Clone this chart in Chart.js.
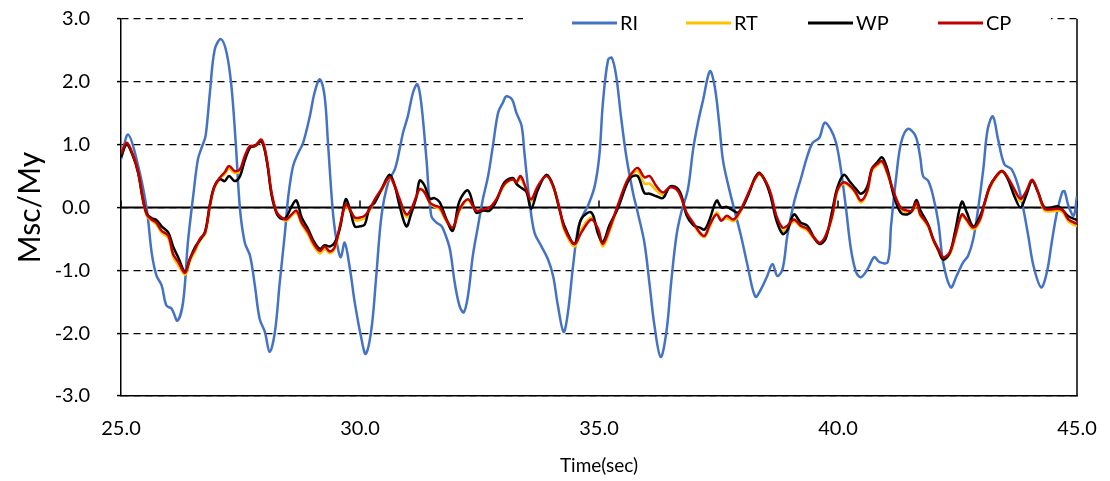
<!DOCTYPE html>
<html>
<head>
<meta charset="utf-8">
<script src="https://cdn.jsdelivr.net/npm/chart.js@4.4.1/dist/chart.umd.min.js"></script>
<style>
  html, body { margin: 0; padding: 0; background: #fff; }
  #wrap { width: 1110px; height: 481px; }
</style>
</head>
<body>
<div id="wrap"><canvas id="moment" width="1110" height="481"></canvas></div>
<script>
// series labels
const seriesNames = ["RI", "RT", "WP", "CP"];

// RI (blue) - time stamps and values
const tRI = [25.00, 25.15, 25.36, 25.54, 25.64, 25.74, 25.85, 25.95, 26.06, 26.18, 26.30, 26.40, 26.51, 26.61, 26.70, 26.77, 26.86, 26.96, 27.09, 27.21,
  27.31, 27.40, 27.49, 27.59, 27.70, 27.80, 27.90, 28.01, 28.11, 28.22, 28.32, 28.43, 28.50, 28.60, 28.71, 28.81, 28.95, 29.05, 29.16, 29.26,
  29.33, 29.44, 29.54, 29.60, 29.68, 29.79, 29.89, 30.03, 30.12, 30.24, 30.34, 30.45, 30.59, 30.73, 30.83, 30.90, 31.00, 31.11, 31.20, 31.28,
  31.39, 31.49, 31.60, 31.70, 31.77, 31.88, 31.98, 32.08, 32.17, 32.26, 32.36, 32.47, 32.57, 32.68, 32.78, 32.89, 32.99, 33.06, 33.18, 33.27,
  33.38, 33.44, 33.55, 33.65, 33.79, 33.93, 34.04, 34.14, 34.26, 34.35, 34.45, 34.56, 34.66, 34.77, 34.91, 35.01, 35.08, 35.19, 35.27, 35.36,
  35.46, 35.57, 35.71, 35.81, 35.95, 36.06, 36.16, 36.29, 36.41, 36.51, 36.62, 36.72, 36.86, 36.97, 37.07, 37.18, 37.32, 37.42, 37.52, 37.59,
  37.69, 37.83, 37.97, 38.11, 38.27, 38.39, 38.52, 38.63, 38.73, 38.84, 38.94, 39.08, 39.22, 39.36, 39.47, 39.61, 39.72, 39.85, 39.96, 40.06,
  40.17, 40.27, 40.38, 40.48, 40.62, 40.76, 40.87, 41.04, 41.11, 41.22, 41.32, 41.46, 41.62, 41.72, 41.78, 41.89, 41.99, 42.10, 42.20, 42.36,
  42.48, 42.62, 42.72, 42.83, 42.93, 43.04, 43.13, 43.24, 43.35, 43.48, 43.63, 43.77, 43.88, 43.98, 44.09, 44.25, 44.37, 44.47, 44.58, 44.69,
  44.74, 44.82, 44.93, 45.00];
const ri = [0.77, 1.16, 0.66, -0.03, -0.71, -1.08, -1.24, -1.56, -1.61, -1.80, -1.50, -0.55, 0.18, 0.77, 0.98, 1.14, 1.83, 2.51, 2.68, 2.46,
  1.93, 1.03, -0.03, -0.56, -0.77, -1.24, -1.77, -1.98, -2.30, -1.98, -1.20, -0.40, 0.18, 0.66, 0.87, 1.03, 1.45, 1.83, 2.04, 1.77,
  1.03, -0.13, -0.66, -0.79, -0.56, -0.98, -1.51, -2.09, -2.33, -1.93, -1.09, -0.13, 0.40, 0.61, 0.93, 1.19, 1.45, 1.83, 1.96, 1.67,
  0.77, -0.13, -0.24, -0.29, -0.40, -0.66, -1.19, -1.56, -1.67, -1.40, -0.77, -0.29, 0.13, 0.50, 0.98, 1.51, 1.67, 1.77, 1.72, 1.51,
  1.30, 0.87, 0.08, -0.40, -0.61, -0.82, -1.09, -1.56, -1.98, -1.67, -0.98, -0.34, -0.13, 0.03, 0.34, 0.85, 1.65, 2.35, 2.38, 2.09,
  1.45, 0.82, 0.24, -0.08, -0.56, -1.24, -1.88, -2.38, -1.98, -1.19, -0.45, -0.08, 0.29, 0.93, 1.35, 1.72, 2.17, 1.93, 1.30, 0.77,
  0.40, -0.03, -0.45, -0.93, -1.42, -1.30, -1.09, -0.90, -1.09, -0.98, -0.45, 0.08, 0.45, 0.82, 1.03, 1.11, 1.35, 1.24, 1.03, 0.61,
  -0.03, -0.66, -1.03, -1.11, -0.98, -0.79, -0.87, -0.87, -0.29, 0.50, 1.03, 1.25, 1.14, 0.80, 0.50, 0.42, 0.18, -0.24, -0.87, -1.27,
  -1.09, -0.87, -0.77, -0.50, -0.03, 0.61, 1.24, 1.45, 1.08, 0.69, 0.61, 0.34, -0.03, -0.45, -0.93, -1.27, -1.03, -0.56, -0.08, 0.24,
  0.26, 0.03, -0.13, 0.18];

// RT, WP, CP share one set of time stamps
const tMix = [25.00, 25.12, 25.26, 25.36, 25.46, 25.54, 25.64, 25.74, 25.85, 25.99, 26.09, 26.20, 26.34, 26.44, 26.55, 26.65, 26.76, 26.86, 26.95, 27.07,
  27.17, 27.26, 27.38, 27.49, 27.59, 27.70, 27.80, 27.94, 28.05, 28.15, 28.26, 28.36, 28.46, 28.57, 28.67, 28.78, 28.92, 29.02, 29.16, 29.26,
  29.37, 29.47, 29.58, 29.70, 29.79, 29.89, 30.00, 30.10, 30.20, 30.31, 30.45, 30.62, 30.73, 30.83, 30.97, 31.07, 31.18, 31.25, 31.35, 31.46,
  31.56, 31.67, 31.80, 31.94, 32.08, 32.26, 32.43, 32.57, 32.71, 32.85, 33.02, 33.20, 33.27, 33.36, 33.48, 33.58, 33.72, 33.90, 34.04, 34.18,
  34.28, 34.49, 34.63, 34.84, 34.98, 35.08, 35.22, 35.39, 35.57, 35.67, 35.81, 35.95, 36.06, 36.20, 36.34, 36.48, 36.62, 36.72, 36.83, 36.97,
  37.11, 37.21, 37.32, 37.46, 37.56, 37.67, 37.81, 37.91, 38.02, 38.16, 38.26, 38.36, 38.50, 38.60, 38.71, 38.84, 38.94, 39.08, 39.22, 39.36,
  39.50, 39.62, 39.74, 39.88, 39.98, 40.12, 40.26, 40.37, 40.48, 40.61, 40.71, 40.82, 40.92, 41.03, 41.17, 41.31, 41.45, 41.55, 41.64, 41.72,
  41.80, 41.89, 41.99, 42.10, 42.20, 42.34, 42.45, 42.59, 42.69, 42.83, 42.97, 43.07, 43.17, 43.31, 43.43, 43.55, 43.69, 43.82, 43.94, 44.06,
  44.18, 44.32, 44.47, 44.60, 44.71, 44.82, 45.00];
const rt = [0.83, 1.02, 0.80, 0.54, 0.11, -0.13, -0.21, -0.27, -0.40, -0.49, -0.78, -0.92, -1.07, -0.86, -0.69, -0.53, -0.42, 0.01, 0.30, 0.46,
  0.53, 0.62, 0.55, 0.58, 0.80, 0.97, 0.97, 1.06, 0.75, 0.22, -0.10, -0.18, -0.21, -0.13, -0.08, -0.27, -0.44, -0.60, -0.73, -0.66,
  -0.73, -0.66, -0.32, 0.03, -0.06, -0.20, -0.20, -0.17, -0.05, 0.11, 0.27, 0.47, 0.32, 0.10, -0.15, -0.06, 0.16, 0.30, 0.25, 0.07,
  0.01, -0.03, -0.21, -0.35, -0.05, 0.12, -0.06, -0.04, -0.02, 0.11, 0.36, 0.45, 0.39, 0.46, 0.28, 0.10, 0.32, 0.51, 0.33, -0.06,
  -0.37, -0.62, -0.35, -0.16, -0.38, -0.62, -0.38, 0.00, 0.38, 0.50, 0.58, 0.38, 0.38, 0.27, 0.20, 0.32, 0.30, 0.16, -0.10, -0.26,
  -0.42, -0.47, -0.30, -0.08, -0.20, -0.17, -0.22, -0.14, 0.03, 0.28, 0.44, 0.53, 0.39, 0.19, -0.15, -0.38, -0.33, -0.22, -0.31, -0.37,
  -0.50, -0.58, -0.47, -0.15, 0.24, 0.38, 0.32, 0.22, 0.08, 0.24, 0.58, 0.67, 0.72, 0.54, 0.22, -0.03, -0.08, -0.07, 0.05, -0.13,
  -0.21, -0.31, -0.52, -0.69, -0.83, -0.74, -0.48, -0.13, -0.21, -0.35, -0.21, 0.06, 0.30, 0.48, 0.57, 0.47, 0.27, 0.10, 0.24, 0.44,
  0.25, -0.05, -0.06, -0.05, -0.08, -0.22, -0.30];
const wp = [0.80, 1.00, 0.80, 0.55, 0.12, -0.10, -0.17, -0.20, -0.30, -0.40, -0.62, -0.80, -1.02, -0.82, -0.63, -0.52, -0.38, 0.05, 0.33, 0.45,
  0.42, 0.50, 0.42, 0.50, 0.75, 0.95, 0.98, 1.05, 0.74, 0.20, -0.10, -0.18, -0.15, 0.02, 0.11, -0.16, -0.35, -0.52, -0.66, -0.60,
  -0.62, -0.56, -0.33, 0.13, -0.03, -0.30, -0.30, -0.27, 0.00, 0.08, 0.29, 0.52, 0.34, 0.02, -0.30, -0.10, 0.17, 0.43, 0.35, 0.14,
  0.15, 0.08, -0.17, -0.37, 0.10, 0.27, -0.08, -0.05, -0.05, 0.10, 0.40, 0.47, 0.38, 0.32, 0.25, -0.02, 0.28, 0.52, 0.35, -0.05,
  -0.30, -0.58, -0.18, -0.08, -0.42, -0.55, -0.28, -0.02, 0.35, 0.48, 0.50, 0.23, 0.22, 0.18, 0.15, 0.33, 0.32, 0.20, -0.12, -0.28,
  -0.32, -0.35, -0.18, 0.11, 0.00, 0.01, -0.05, -0.08, 0.03, 0.27, 0.47, 0.55, 0.38, 0.15, -0.20, -0.42, -0.36, -0.11, -0.24, -0.29,
  -0.48, -0.58, -0.50, -0.05, 0.30, 0.52, 0.40, 0.30, 0.22, 0.33, 0.62, 0.72, 0.80, 0.62, 0.18, -0.08, -0.11, -0.05, 0.12, -0.04,
  -0.15, -0.28, -0.50, -0.68, -0.83, -0.72, -0.38, 0.09, -0.07, -0.30, -0.14, 0.08, 0.33, 0.50, 0.58, 0.46, 0.18, 0.00, 0.20, 0.42,
  0.25, 0.00, 0.00, 0.02, -0.05, -0.14, -0.20];
const cp = [0.85, 1.03, 0.82, 0.56, 0.13, -0.11, -0.19, -0.24, -0.37, -0.45, -0.74, -0.87, -1.04, -0.82, -0.66, -0.50, -0.40, 0.03, 0.32, 0.48,
  0.56, 0.66, 0.58, 0.61, 0.82, 0.98, 0.98, 1.08, 0.77, 0.24, -0.08, -0.16, -0.19, -0.11, -0.05, -0.24, -0.40, -0.56, -0.69, -0.62,
  -0.70, -0.63, -0.29, 0.05, -0.03, -0.16, -0.16, -0.13, -0.03, 0.13, 0.29, 0.48, 0.34, 0.13, -0.11, -0.03, 0.18, 0.29, 0.24, 0.08,
  0.03, 0.00, -0.19, -0.32, -0.03, 0.13, -0.05, -0.03, 0.00, 0.13, 0.37, 0.45, 0.40, 0.50, 0.29, 0.13, 0.34, 0.50, 0.34, -0.03,
  -0.34, -0.58, -0.40, -0.19, -0.34, -0.58, -0.34, 0.03, 0.40, 0.53, 0.63, 0.48, 0.50, 0.34, 0.24, 0.32, 0.29, 0.16, -0.08, -0.24,
  -0.40, -0.45, -0.27, -0.11, -0.21, -0.13, -0.19, -0.11, 0.05, 0.29, 0.45, 0.54, 0.40, 0.21, -0.13, -0.32, -0.29, -0.19, -0.29, -0.34,
  -0.48, -0.56, -0.45, -0.13, 0.26, 0.40, 0.34, 0.24, 0.11, 0.26, 0.61, 0.69, 0.74, 0.56, 0.24, 0.00, -0.05, -0.05, 0.08, -0.11,
  -0.19, -0.29, -0.50, -0.66, -0.79, -0.71, -0.45, -0.11, -0.19, -0.32, -0.19, 0.08, 0.32, 0.50, 0.58, 0.48, 0.29, 0.14, 0.26, 0.44,
  0.26, -0.02, -0.03, -0.02, -0.05, -0.19, -0.26];

// y tick values and x tick values
const yTicks = [-3, -2, -1, 0, 1, 2, 3];
const xTicks = [25, 30, 35, 40, 45];

const colors = ["#4472C4", "#FFC000", "#000000", "#C00000"];
const FONT = "Lato, 'Liberation Sans', sans-serif";

function pts(ts, vs) {
  return ts.map((t, i) => ({ x: t, y: vs[i] }));
}

// zero axis line with its little ticks, plus right border
const axisPlugin = {
  id: "axisPlugin",
  beforeDatasetsDraw(chart) {
    const { ctx, chartArea, scales } = chart;
    const y0 = scales.y.getPixelForValue(0);
    ctx.save();
    ctx.strokeStyle = "#000";
    ctx.lineWidth = 2;
    ctx.beginPath();
    ctx.moveTo(chartArea.left, y0);
    ctx.lineTo(chartArea.right, y0);
    ctx.stroke();
    ctx.lineWidth = 1.5;
    xTicks.forEach(v => {
      const x = scales.x.getPixelForValue(v);
      ctx.beginPath();
      ctx.moveTo(x, y0);
      ctx.lineTo(x, y0 - 7);
      ctx.stroke();
    });
    ctx.beginPath();
    ctx.moveTo(chartArea.right, chartArea.top);
    ctx.lineTo(chartArea.right, chartArea.bottom);
    ctx.stroke();
    ctx.restore();
  },
  afterDraw(chart) {
    // legend sits on the top edge of the plot with a white box
    const { ctx } = chart;
    ctx.save();
    ctx.fillStyle = "#fff";
    ctx.fillRect(523, 0, 528, 33);
    const xs = [572, 686, 808, 938];
    const y = 23;
    ctx.font = "20px " + FONT;
    ctx.textBaseline = "middle";
    ctx.fillStyle = "#000";
    chart.data.datasets.forEach((ds, i) => {
      ctx.strokeStyle = ds.borderColor;
      ctx.lineWidth = 3;
      ctx.beginPath();
      ctx.moveTo(xs[i], y);
      ctx.lineTo(xs[i] + 45, y);
      ctx.stroke();
      ctx.fillText(ds.label, xs[i] + 48, y + 1);
    });
    ctx.restore();
  }
};

const chart = new Chart(document.getElementById("moment"), {
  type: "line",
  data: {
    datasets: [
      { label: seriesNames[0], data: pts(tRI, ri), borderColor: colors[0], borderWidth: 2.5, order: 3 },
      { label: seriesNames[1], data: pts(tMix, rt), borderColor: colors[1], borderWidth: 2.5, order: 2 },
      { label: seriesNames[2], data: pts(tMix, wp), borderColor: colors[2], borderWidth: 2.5, order: 1 },
      { label: seriesNames[3], data: pts(tMix, cp), borderColor: colors[3], borderWidth: 2.5, order: 0 }
    ]
  },
  options: {
    responsive: false,
    animation: false,
    devicePixelRatio: 1,
    layout: { padding: { left: 0, right: 33, top: 19, bottom: 0 } },
    elements: {
      point: { radius: 0 },
      line: { tension: 0.35, fill: false }
    },
    plugins: {
      legend: { display: false },
      tooltip: { enabled: false }
    },
    scales: {
      x: {
        type: "linear",
        min: 25,
        max: 45,
        afterBuildTicks: s => { s.ticks = xTicks.map(v => ({ value: v })); },
        afterFit: s => {
          s.height = 85;
          s.paddingLeft = 0;
          s.paddingRight = 0;
        },
        ticks: {
          color: "#000",
          font: { family: FONT, size: 20 },
          padding: 21,
          maxRotation: 0,
          callback: v => v.toFixed(1)
        },
        grid: { display: false, drawTicks: false },
        border: { display: true, color: "#000", width: 1.5 },
        title: {
          display: true,
          text: "Time(sec)",
          color: "#000",
          font: { family: FONT, size: 19 },
          padding: { top: 0, bottom: 4 }
        }
      },
      y: {
        min: -3,
        max: 3,
        afterBuildTicks: s => { s.ticks = yTicks.map(v => ({ value: v })); },
        afterFit: s => {
          s.width = 121;
          s.paddingTop = 0;
          s.paddingBottom = 0;
        },
        ticks: {
          color: "#000",
          font: { family: FONT, size: 20 },
          padding: 27,
          callback: v => v.toFixed(1)
        },
        grid: {
          color: "#000",
          lineWidth: 1.2,
          drawTicks: true,
          tickLength: 4,
          tickColor: "#000",
          tickWidth: 1.5,
          tickBorderDash: []
        },
        border: { display: true, color: "#000", width: 1.5, dash: [7, 5] },
        title: {
          display: true,
          text: "Msc/My",
          color: "#000",
          font: { family: FONT, size: 30 },
          padding: { top: 12, bottom: 0 }
        }
      }
    }
  },
  plugins: [axisPlugin]
});
</script>
</body>
</html>
